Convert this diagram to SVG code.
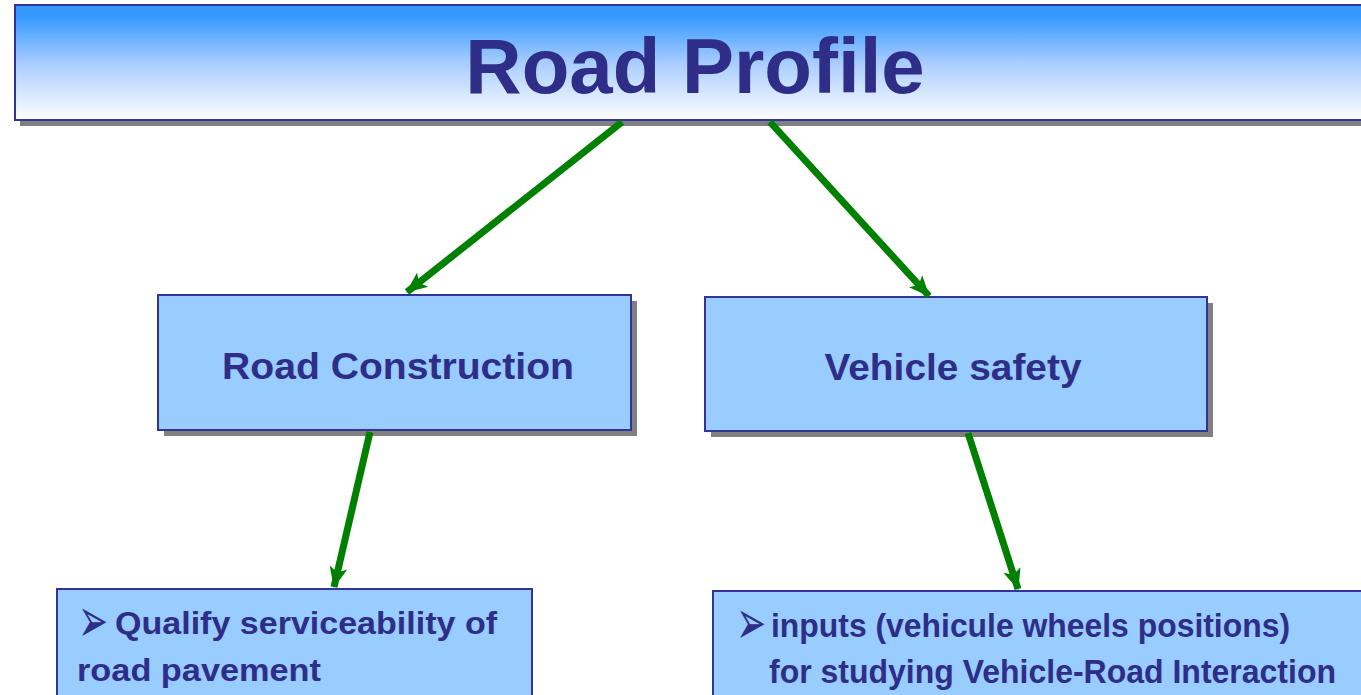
<svg xmlns="http://www.w3.org/2000/svg" width="1361" height="695" viewBox="0 0 1361 695">
  <style>
    .box { fill: #99CCFF; stroke: #333399; stroke-width: 2; }
    .shadow { fill: #808080; }
    .t { font-family: "Liberation Sans", Arial, sans-serif; font-weight: bold; fill: #2E2E88; }
    .bul { font-family: "DejaVu Sans", sans-serif; fill: #2E2E88; font-size: 30px; }
    .conn { stroke: #008000; stroke-width: 7; fill: none; marker-end: url(#ah); }
  </style>
  <defs>
    <linearGradient id="tg" x1="0" y1="0" x2="0" y2="1">
      <stop offset="0.1" stop-color="#3399FF"/>
      <stop offset="0.5" stop-color="#A8CCFF"/>
      <stop offset="1" stop-color="#FFFFFF"/>
    </linearGradient>
    <marker id="ah" markerUnits="userSpaceOnUse" markerWidth="24" markerHeight="20" refX="20" refY="9" orient="auto" viewBox="0 0 24 18">
      <path d="M0,0 L21,9 L0,18 L5,9 Z" fill="#008000"/>
    </marker>
  </defs>
  <rect width="1361" height="695" fill="#FFFFFF"/>

  <g id="title">
    <rect class="shadow" x="20" y="10" width="1350" height="116"/>
    <rect x="15" y="5" width="1355" height="115" fill="url(#tg)" stroke="#333399" stroke-width="2"/>
    <text class="t" x="695" y="93" font-size="78" text-anchor="middle">Road Profile</text>
  </g>

  <g id="road-construction">
    <rect class="shadow" x="164" y="301" width="473" height="135"/>
    <rect class="box" x="158" y="295" width="473" height="135"/>
    <text class="t" x="398" y="379" font-size="36" text-anchor="middle" textLength="352" lengthAdjust="spacingAndGlyphs">Road Construction</text>
  </g>

  <g id="vehicle-safety">
    <rect class="shadow" x="711" y="303" width="502" height="134"/>
    <rect class="box" x="705" y="297" width="502" height="134"/>
    <text class="t" x="953" y="380" font-size="37" text-anchor="middle" textLength="257" lengthAdjust="spacingAndGlyphs">Vehicle safety</text>
  </g>

  <g id="serviceability">
    <rect class="box" x="57" y="589" width="475" height="120"/>
    <text class="bul" transform="translate(78,642) scale(1.2,2.1)">➢</text>
    <text class="t" x="115" y="634" font-size="32" textLength="382" lengthAdjust="spacingAndGlyphs">Qualify serviceability of</text>
    <text class="t" x="77" y="681" font-size="32" textLength="244" lengthAdjust="spacingAndGlyphs">road pavement</text>
  </g>

  <g id="inputs">
    <rect class="box" x="713" y="591" width="660" height="120"/>
    <text class="bul" transform="translate(736,644) scale(1.2,2.1)">➢</text>
    <text class="t" x="771" y="637" font-size="33" textLength="519" lengthAdjust="spacingAndGlyphs">inputs (vehicule wheels positions)</text>
    <text class="t" x="769" y="683" font-size="33" textLength="567" lengthAdjust="spacingAndGlyphs">for studying Vehicle-Road Interaction</text>
  </g>

  <g id="connectors">
    <line class="conn" x1="622" y1="122" x2="407" y2="292"/>
    <line class="conn" x1="770" y1="122" x2="929" y2="296"/>
    <line class="conn" x1="370" y1="432" x2="334" y2="587"/>
    <line class="conn" x1="968" y1="433" x2="1018" y2="589"/>
  </g>
</svg>
